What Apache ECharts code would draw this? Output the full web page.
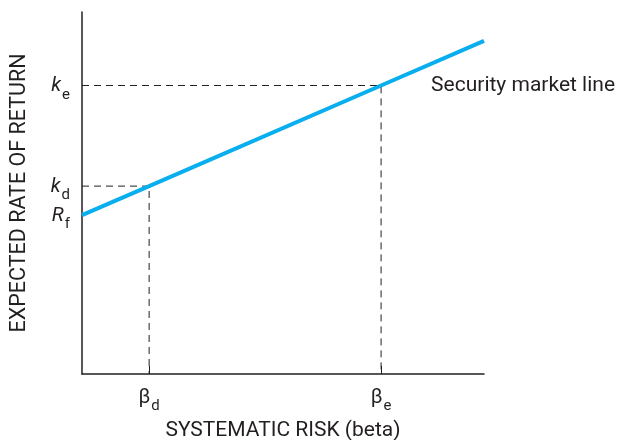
<!DOCTYPE html>
<html>
<head>
<meta charset="utf-8">
<script src="https://cdn.jsdelivr.net/npm/echarts@6/dist/echarts.min.js"></script>
<style>
  html, body { margin: 0; padding: 0; background: #fff; }
  #chart { width: 619px; height: 440px; }
</style>
</head>
<body>
<div id="chart"></div>
<script>
  // values (arbitrary 0-100 units)
  var betaValues   = [16.7, 74.4];
  var betaLabels   = ['d', 'e'];
  var returnValues = [43.9, 51.9, 79.7];
  var returnLabels = ['Rf', 'kd', 'ke'];
  var smlLine      = [[0, 43.9], [16.7, 51.9], [74.4, 79.7], [100, 92]];
  var guideD       = [[0, 51.9], [16.7, 51.9], [16.7, 0]];
  var guideE       = [[0, 79.7], [74.4, 79.7], [74.4, 0]];

  var ink = '#231f20',
      font = 'Roboto';

  var chart = echarts.init(document.getElementById('chart'));

  function yLabel(v) {
    var i = returnValues.indexOf(v);
    var t = returnLabels[i];
    return '{it|' + t.charAt(0) + '}{sub|' + t.charAt(1) + '}';
  }

  function xLabel(v) {
    var i = betaValues.indexOf(v);
    return '{b|β}{sub|' + betaLabels[i] + '}';
  }

  var rich = {
    it:  {fontFamily: font, fontSize: 20, fontStyle: 'italic', color: ink, lineHeight: 22, verticalAlign: 'bottom'},
    b:   {fontFamily: font, fontSize: 20, color: ink, lineHeight: 22, verticalAlign: 'bottom'},
    sub: {fontFamily: font, fontSize: 15, color: ink, lineHeight: 22, verticalAlign: 'bottom', padding: [0, 0, -6, 1]}
  };

  var option = {
    animation: false,
    grid: {left: 82, top: 12, right: 135, bottom: 66, outerBoundsMode: 'none'},
    xAxis: {
      type: 'value',
      min: 0,
      max: 100,
      name: 'SYSTEMATIC RISK (beta)',
      nameLocation: 'middle',
      nameGap: 46,
      nameTextStyle: {fontFamily: font, fontSize: 21, color: ink},
      splitLine: {show: false},
      axisLine: {lineStyle: {color: ink, width: 1.5}},
      axisTick: {show: true, inside: true, length: 8, customValues: betaValues, lineStyle: {color: ink}},
      axisLabel: {customValues: betaValues, formatter: xLabel, rich: rich, margin: 12}
    },
    yAxis: {
      type: 'value',
      min: 0,
      max: 100,
      name: 'EXPECTED RATE OF RETURN',
      nameLocation: 'middle',
      nameGap: 51,
      nameTextStyle: {fontFamily: font, fontSize: 21.5, color: ink},
      splitLine: {show: false},
      axisLine: {show: true, lineStyle: {color: ink, width: 1.5}},
      axisTick: {show: false},
      axisLabel: {customValues: returnValues, formatter: yLabel, rich: rich, margin: 12}
    },
    series: [{
      type: 'line',
      data: guideD,
      symbol: 'none',
      silent: true,
      lineStyle: {color: ink, width: 1, type: [7, 5]}
    }, {
      type: 'line',
      data: guideE,
      symbol: 'none',
      silent: true,
      lineStyle: {color: ink, width: 1, type: [7, 5]}
    }, {
      type: 'line',
      data: smlLine,
      symbol: 'none',
      lineStyle: {color: '#08aeee', width: 4},
      markPoint: {
        symbol: 'circle',
        symbolSize: 0,
        data: [{coord: smlLine[2], value: 'Security market line'}],
        label: {
          show: true,
          position: 'right',
          distance: 50,
          formatter: '{c}',
          fontFamily: font,
          fontSize: 21,
          color: ink
        }
      }
    }]
  };

  chart.setOption(option);
</script>
</body>
</html>
